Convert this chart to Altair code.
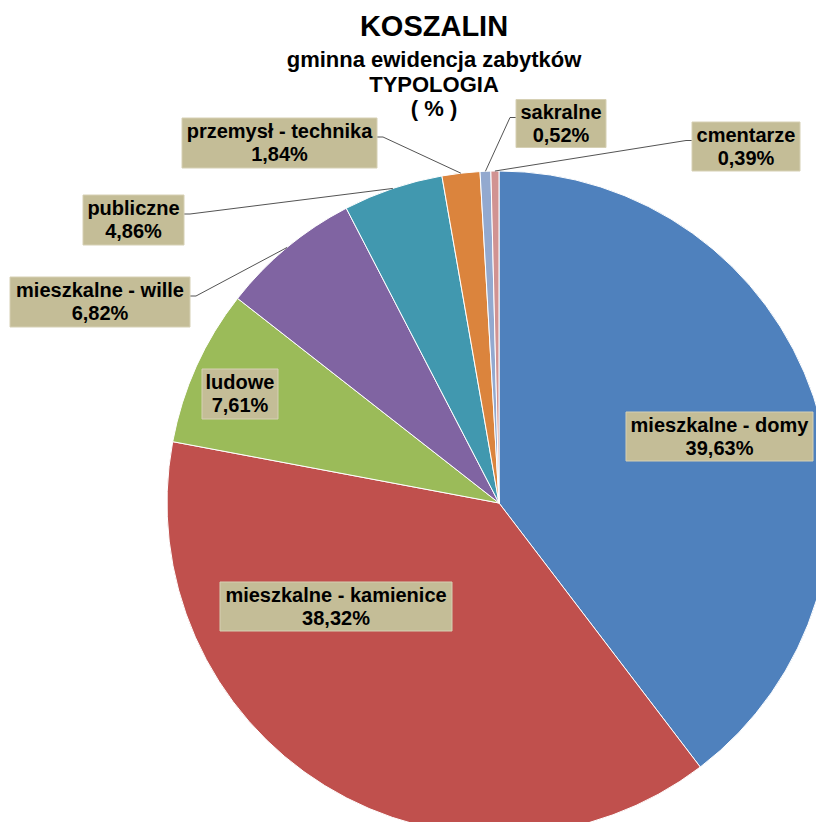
import altair as alt
import pandas as pd
import math

# ---- data ----
categories = ["mieszkalne - domy", "mieszkalne - kamienice", "ludowe",
              "mieszkalne - wille", "publiczne", "przemysł - technika",
              "sakralne", "cmentarze"]
values = [39.63, 38.32, 7.61, 6.82, 4.86, 1.84, 0.52, 0.39]
colors = ["#4F81BD", "#C0504D", "#9BBB59", "#8064A2", "#4198AF",
          "#DB843D", "#93A9CF", "#D19392"]
title_lines = ["KOSZALIN", "gminna ewidencja zabytków", "TYPOLOGIA", "( % )"]

# ---- layout (page pixels) ----
OFF = 8
W, H = 808, 814
CX, CY, R = 499, 503, 332
# label box centre x, centre y, width, height ; leader side
box_cx = [719.5, 336, 240, 100, 133.5, 279.5, 561, 746]
box_cy = [436.5, 606.5, 394, 302, 220, 143, 123.5, 146.5]
box_w = [187, 232, 76, 180, 101, 195, 90, 108]
box_h = [49, 49, 50, 50, 50, 50, 48, 49]
leader = [None, None, None, "right", "right", "right", "left", "left"]

total = sum(values)
df = pd.DataFrame({"cat": categories, "value": values, "idx": list(range(len(values)))})

pct = [f"{v:.2f}".replace(".", ",") + "%" for v in values]
lab = pd.DataFrame({
    "cat": categories,
    "pct": pct,
    "x1": [c - w / 2 - OFF for c, w in zip(box_cx, box_w)],
    "x2": [c + w / 2 - OFF for c, w in zip(box_cx, box_w)],
    "y1": [c - h / 2 - OFF for c, h in zip(box_cy, box_h)],
    "y2": [c + h / 2 - OFF for c, h in zip(box_cy, box_h)],
    "tx": [c - OFF for c in box_cx],
    "ty1": [c - 11 - OFF for c in box_cy],
    "ty2": [c + 12 - OFF for c in box_cy],
})

# leader lines: box side -> elbow -> slice mid-angle point on the rim
rows = []
cum = 0
for i, v in enumerate(values):
    mid = (cum + v / 2) / total * 2 * math.pi
    cum += v
    if leader[i] is None:
        continue
    px = CX + R * math.sin(mid)
    py = CY - R * math.cos(mid)
    ly = box_cy[i] - 6
    if leader[i] == "right":
        sx = box_cx[i] + box_w[i] / 2
        ex = sx + 6
    else:
        sx = box_cx[i] - box_w[i] / 2
        ex = sx - 6
    for k, (x, y) in enumerate([(sx, ly), (ex, ly), (px, py)]):
        rows.append({"cat": categories[i], "k": k, "x": x - OFF, "y": y - OFF})
lead = pd.DataFrame(rows)

tdf = pd.DataFrame({
    "t": title_lines,
    "x": [434 - OFF] * 4,
    "y": [27 - OFF, 60 - OFF, 85 - OFF, 109 - OFF],
    "s": [29, 22, 22, 22],
})

pie = alt.Chart(df).mark_arc(outerRadius=R, stroke="white", strokeWidth=1).encode(
    theta=alt.Theta("value:Q", stack=True),
    color=alt.Color("cat:N", scale=alt.Scale(domain=categories, range=colors), legend=None),
    order=alt.Order("idx:Q"),
    x=alt.value(CX - OFF),
    y=alt.value(CY - OFF),
)

lines = alt.Chart(lead).mark_line(color="#404040", strokeWidth=0.9).encode(
    x=alt.X("x:Q", scale=None),
    y=alt.Y("y:Q", scale=None),
    detail="cat:N",
    order="k:Q",
)

boxes = alt.Chart(lab).mark_rect(fill="#C4BD97", stroke="#D6D0B4", strokeWidth=1).encode(
    x=alt.X("x1:Q", scale=None), x2="x2:Q",
    y=alt.Y("y1:Q", scale=None), y2="y2:Q",
)

t1 = alt.Chart(lab).mark_text(font="Liberation Sans", fontWeight="bold", fontSize=20,
                              color="black", baseline="middle", align="center").encode(
    x=alt.X("tx:Q", scale=None), y=alt.Y("ty1:Q", scale=None), text="cat:N")
t2 = alt.Chart(lab).mark_text(font="Liberation Sans", fontWeight="bold", fontSize=20,
                              color="black", baseline="middle", align="center").encode(
    x=alt.X("tx:Q", scale=None), y=alt.Y("ty2:Q", scale=None), text="pct:N")

title = alt.Chart(tdf).mark_text(font="Liberation Sans", fontWeight="bold",
                                 color="black", baseline="middle", align="center").encode(
    x=alt.X("x:Q", scale=None), y=alt.Y("y:Q", scale=None), text="t:N",
    size=alt.Size("s:Q", scale=None))

chart = alt.layer(pie, lines, boxes, t1, t2, title).properties(
    width=W, height=H, padding=0, autosize=alt.AutoSizeParams(type="none")
).configure_view(stroke=None).resolve_scale(color="independent")

chart.save("out.html", embed_options={"renderer": "svg", "actions": False})
